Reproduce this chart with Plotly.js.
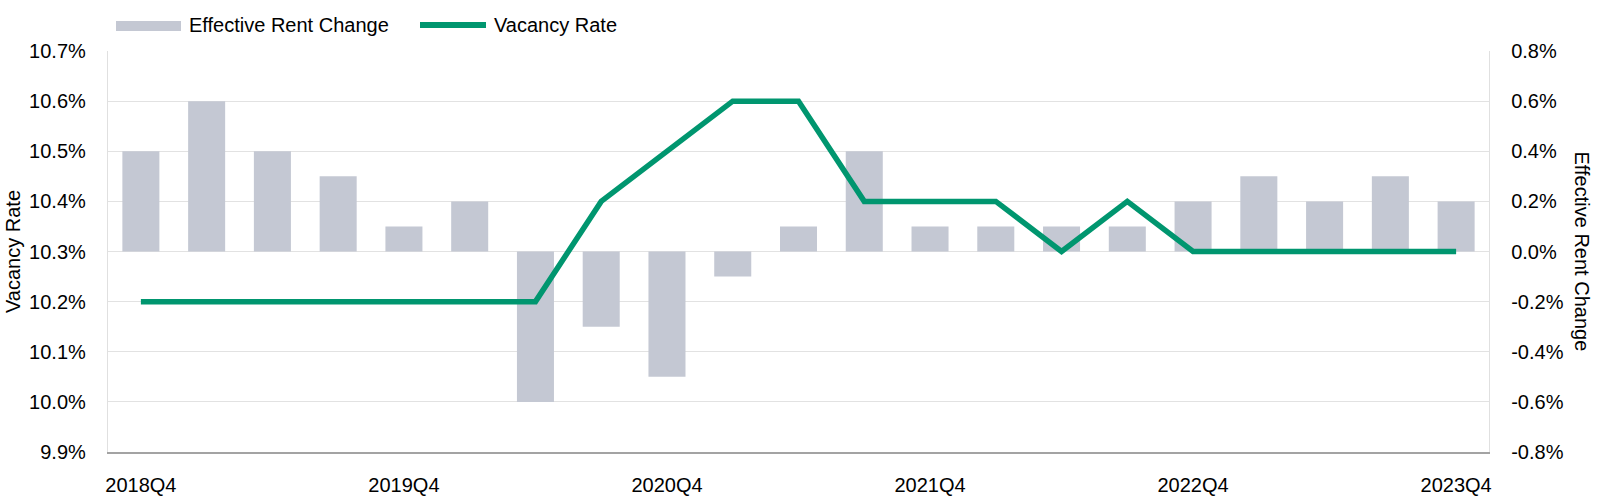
<!DOCTYPE html>
<html>
<head>
<meta charset="utf-8">
<script src="https://cdn.plot.ly/plotly-3.0.1.min.js"></script>
<style>html,body{margin:0;padding:0;background:#ffffff;}</style>
</head>
<body>
<div id="chart" style="width:1600px;height:502px;"></div>
<script>
const quarters = ['2018Q4','2019Q1','2019Q2','2019Q3','2019Q4','2020Q1','2020Q2','2020Q3','2020Q4',
  '2021Q1','2021Q2','2021Q3','2021Q4','2022Q1','2022Q2','2022Q3','2022Q4','2023Q1','2023Q2','2023Q3','2023Q4'];
const rentChange = [0.4,0.6,0.4,0.3,0.1,0.2,-0.6,-0.3,-0.5,-0.1,0.1,0.4,0.1,0.1,0.1,0.1,0.2,0.3,0.2,0.3,0.2];
const vacancyRate = [10.2,10.2,10.2,10.2,10.2,10.2,10.2,10.4,10.5,10.6,10.6,10.4,10.4,10.4,10.3,10.4,10.3,10.3,10.3,10.3,10.3];
const xTickLabels = ['2018Q4','2019Q4','2020Q4','2021Q4','2022Q4','2023Q4'];
const vacancyTicks = [9.9,10.0,10.1,10.2,10.3,10.4,10.5,10.6,10.7];
const vacancyTickLabels = ['9.9%','10.0%','10.1%','10.2%','10.3%','10.4%','10.5%','10.6%','10.7%'];
const rentTicks = [-0.8,-0.6,-0.4,-0.2,0.0,0.2,0.4,0.6,0.8];
const rentTickLabels = ['-0.8%','-0.6%','-0.4%','-0.2%','0.0%','0.2%','0.4%','0.6%','0.8%'];
const seriesNames = ['Effective Rent Change','Vacancy Rate'];

const BAR_COLOR = '#c4c8d3';
const LINE_COLOR = '#00966f';
const FONT = '"Liberation Sans", Arial, Helvetica, sans-serif';

// plot area geometry (pixels)
const L = 108, R = 111, T = 51, B = 50;
const W = 1600 - L - R, H = 502 - T - B;
const px = x => (x - L) / W;
const py = y => (502 - B - y) / H;

const traces = [
  {
    type: 'bar', name: seriesNames[0], x: quarters, y: rentChange, yaxis: 'y',
    marker: {color: BAR_COLOR, line: {width: 0}}, showlegend: false,
    hovertemplate: '%{x}: %{y:.1f}%<extra></extra>'
  },
  {
    type: 'scatter', mode: 'lines', name: seriesNames[1], x: quarters, y: vacancyRate, yaxis: 'y2',
    line: {color: LINE_COLOR, width: 5.5}, showlegend: false,
    hovertemplate: '%{x}: %{y:.1f}%<extra></extra>'
  }
];

const layout = {
  width: 1600, height: 502,
  margin: {l: L, r: R, t: T, b: B, pad: 0},
  paper_bgcolor: '#ffffff', plot_bgcolor: '#ffffff',
  font: {family: FONT, size: 20, color: '#000000'},
  bargap: 0.437,
  showlegend: false,
  xaxis: {
    type: 'category', tickmode: 'array', tickvals: xTickLabels, ticktext: xTickLabels,
    showgrid: false, zeroline: false, showline: true, linecolor: '#a3a3a3', linewidth: 1.5,
    ticks: '', ticklabelstandoff: 14, tickfont: {size: 20, family: FONT, color: '#000'},
    range: [-0.5, quarters.length - 0.5], fixedrange: true
  },
  yaxis: {
    side: 'right', range: [-0.8, 0.8], tickmode: 'array', tickvals: rentTicks, ticktext: rentTickLabels,
    showgrid: true, gridcolor: '#e2e2e2', gridwidth: 1.2, zeroline: false,
    showline: true, linecolor: '#e0e0e0', linewidth: 1.2,
    ticks: '', ticklabelstandoff: 17, tickfont: {size: 20, family: FONT, color: '#000'}, fixedrange: true
  },
  yaxis2: {
    side: 'left', overlaying: 'y', range: [9.9, 10.7], tickmode: 'array', tickvals: vacancyTicks, ticktext: vacancyTickLabels,
    showgrid: false, zeroline: false, showline: true, linecolor: '#e0e0e0', linewidth: 1.2,
    ticks: '', ticklabelstandoff: 17, tickfont: {size: 20, family: FONT, color: '#000'},
    title: {text: seriesNames[1], font: {size: 20, family: FONT, color: '#000'}, standoff: 3}, fixedrange: true
  },
  shapes: [
    {type: 'rect', xref: 'paper', yref: 'paper', x0: px(116), x1: px(181), y0: py(31), y1: py(21),
     fillcolor: BAR_COLOR, line: {width: 0}},
    {type: 'line', xref: 'paper', yref: 'paper', x0: px(420), x1: px(486), y0: py(25), y1: py(25),
     line: {color: LINE_COLOR, width: 6}}
  ],
  annotations: [
    {text: seriesNames[0], xref: 'paper', yref: 'paper', x: px(187), y: py(25), xanchor: 'left', yanchor: 'middle',
     showarrow: false, font: {size: 20, family: FONT, color: '#000'}},
    {text: seriesNames[1], xref: 'paper', yref: 'paper', x: px(492), y: py(25), xanchor: 'left', yanchor: 'middle',
     showarrow: false, font: {size: 20, family: FONT, color: '#000'}},
    {text: seriesNames[0], xref: 'paper', yref: 'paper', x: px(1582), y: 0.5, xanchor: 'center', yanchor: 'middle',
     textangle: 90, showarrow: false, font: {size: 20, family: FONT, color: '#000'}}
  ]
};

Plotly.newPlot('chart', traces, layout, {displayModeBar: false, staticPlot: true});
</script>
</body>
</html>
